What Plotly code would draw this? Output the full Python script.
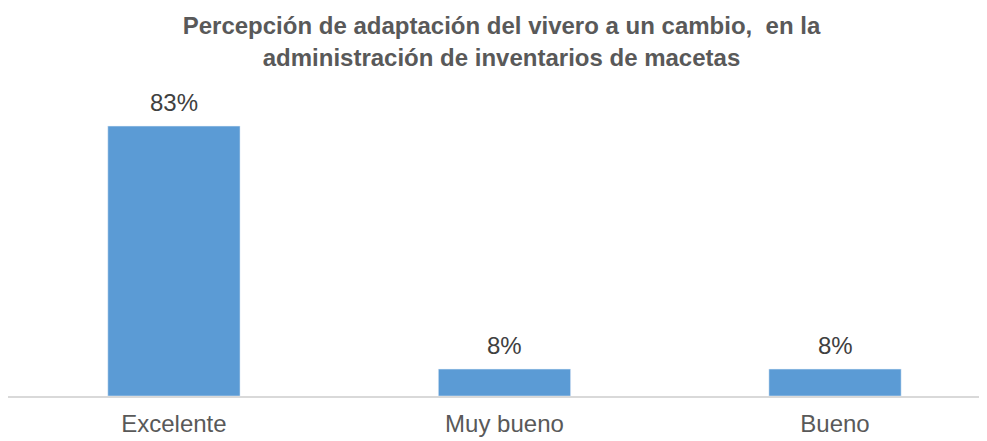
import plotly.graph_objects as go

categories = ["Excelente", "Muy bueno", "Bueno"]
values = [83.3, 8.3, 8.3]
labels = ["83%", "8%", "8%"]

BAR = "#5b9bd5"
TEXT = "#595959"

fig = go.Figure(
    go.Bar(
        x=categories,
        y=values,
        marker_color=BAR,
        width=0.4,
        hoverinfo="x+y",
    )
)

# value labels sit a bit higher above the bars than Plotly's own outside text
for cat, val, lab in zip(categories, values, labels):
    fig.add_annotation(
        x=cat,
        y=val,
        text=lab,
        showarrow=False,
        yanchor="bottom",
        yshift=8,
        font=dict(size=24, color="#404040"),
    )

fig.update_layout(
    width=987,
    height=441,
    margin=dict(l=0, r=0, t=92, b=53),
    plot_bgcolor="white",
    paper_bgcolor="white",
    font=dict(family="Liberation Sans, Arial", color=TEXT),
    title=dict(
        text="<b>Percepción de adaptación del vivero a un cambio,  en la<br>administración de inventarios de macetas</b>",
        x=0.5,
        xanchor="center",
        y=0.94,
        yanchor="top",
        font=dict(size=24, color=TEXT),
    ),
    showlegend=False,
)
fig.update_xaxes(
    range=[-0.502, 2.484],
    showline=True,
    linecolor="#d9d9d9",
    linewidth=1.5,
    ticks="",
    tickfont=dict(size=24, color=TEXT),
    ticklabelstandoff=5,
)
fig.update_yaxes(range=[0, 91.36], visible=False)

fig.write_html("out.html")
